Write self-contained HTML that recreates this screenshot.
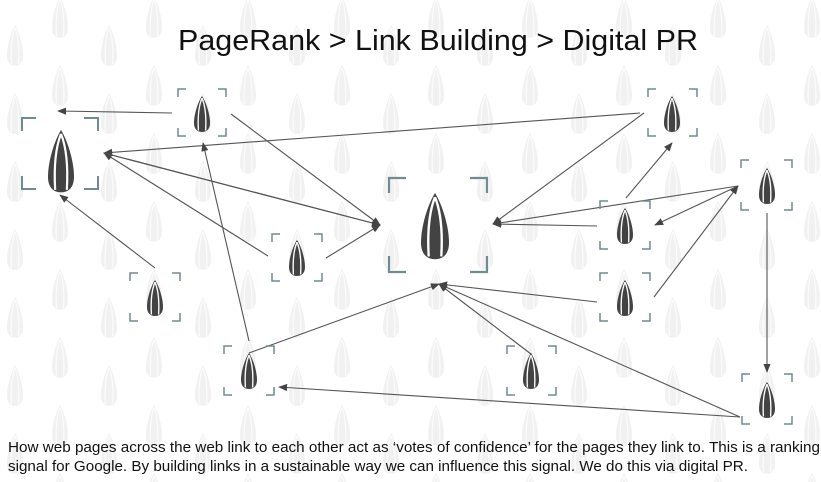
<!DOCTYPE html>
<html><head><meta charset="utf-8"><style>
html,body{margin:0;padding:0;background:#fff;}
svg{display:block;}
</style></head><body>
<svg width="821" height="482" viewBox="0 0 821 482" xmlns="http://www.w3.org/2000/svg">
<defs>
<path id="seed" d="M10 0 C15 8 20 24 20 36 C20 44 16 48 10 48 C4 48 0 44 0 36 C0 24 5 8 10 0Z"/>
<g id="dseed">
<use href="#seed" fill="#434343"/>
<path d="M10 3 C6 13 4.5 28 5.5 46 M10 3 C14 13 15.5 28 14.5 46" stroke="#fff" stroke-width="1.7" fill="none"/>
</g>
<g id="bseed">
<use href="#seed" fill="#f1f1f1"/>
<path d="M10 3 C6 13 4.5 28 5.5 46 M10 3 C14 13 15.5 28 14.5 46" stroke="#fcfcfc" stroke-width="1.5" fill="none"/>
</g>
<pattern id="bg" patternUnits="userSpaceOnUse" width="94" height="68" x="0" y="0">
<use href="#bseed" transform="translate(52,-3) scale(0.8,0.85)"/>
<use href="#bseed" transform="translate(52,65) scale(0.8,0.85)"/>
<use href="#bseed" transform="translate(7,25) scale(0.8,0.85)"/>
<use href="#bseed" transform="translate(101,25) scale(0.8,0.85)"/>
</pattern>
<marker id="ah" viewBox="0 0 10 10" refX="9" refY="5" markerWidth="9" markerHeight="9" markerUnits="userSpaceOnUse" orient="auto">
<path d="M0 1 L10 5 L0 9 Z" fill="#444"/>
</marker>
</defs>
<rect width="821" height="482" fill="#fff"/>
<rect width="821" height="482" fill="url(#bg)"/>

<text x="178" y="50" font-family="Liberation Sans, sans-serif" font-size="29" fill="#111" textLength="520" lengthAdjust="spacingAndGlyphs">PageRank &gt; Link Building &gt; Digital PR</text>

<g stroke="#555" stroke-width="1.1" fill="none" marker-end="url(#ah)">
<line x1="172" y1="113" x2="58" y2="111"/>
<line x1="640" y1="113" x2="104" y2="153"/>
<line x1="268" y1="256" x2="104" y2="153"/>
<line x1="380" y1="225" x2="104" y2="153"/>
<line x1="104" y1="153" x2="380" y2="225"/>
<line x1="155" y1="268" x2="60" y2="195"/>
<line x1="231" y1="114" x2="380" y2="225"/>
<line x1="326" y1="258" x2="380" y2="225"/>
<line x1="249" y1="341" x2="203" y2="143"/>
<line x1="644" y1="113" x2="493" y2="224"/>
<line x1="597" y1="226" x2="493" y2="224"/>
<line x1="738" y1="186" x2="493" y2="224"/>
<line x1="626" y1="198" x2="672" y2="143"/>
<line x1="738" y1="186" x2="655" y2="225"/>
<line x1="654" y1="297" x2="738" y2="186"/>
<line x1="249" y1="353" x2="439" y2="284"/>
<line x1="597" y1="302" x2="439" y2="284"/>
<line x1="531" y1="354" x2="439" y2="284"/>
<line x1="740" y1="417" x2="439" y2="284"/>
<line x1="740" y1="417" x2="279" y2="387"/>
<line x1="767" y1="213" x2="767" y2="372"/>
</g>

<g fill="none" stroke="#6f8c90">
<path stroke-width="2" d="M22 131V118H36 M84 118H98V131 M22 176V189H36 M84 189H98V176"/>
<path stroke-width="2.2" d="M389 193V178H406 M470 178H487V193 M389 256V272H406 M470 272H487V256"/>
<g stroke-width="1.5">
<path d="M178 97V89H186 M218 89H226V97 M178 128V136H186 M218 136H226V128"/>
<path d="M272 242V234H280 M314 234H322V242 M272 273V281H280 M314 281H322V273"/>
<path d="M130 281V273H138 M172 273H180V281 M130 313V321H138 M172 321H180V313"/>
<path d="M224 354V346H232 M266 346H274V354 M224 387V395H232 M266 395H274V387"/>
<path d="M507 354V346H515 M548 346H556V354 M507 387V395H515 M548 395H556V387"/>
<path d="M648 97V89H656 M689 89H697V97 M648 128V136H656 M689 136H697V128"/>
<path d="M741 168V160H749 M784 160H792V168 M741 202V210H749 M784 210H792V202"/>
<path d="M600 209V201H608 M642 201H650V209 M600 241V249H608 M642 249H650V241"/>
<path d="M600 281V273H608 M642 273H650V281 M600 313V321H608 M642 321H650V313"/>
<path d="M742 382V374H750 M784 374H792V382 M742 416V424H750 M784 424H792V416"/>
</g>
</g>

<use href="#dseed" transform="translate(48,130) scale(1.3,1.3)"/>
<use href="#dseed" transform="translate(421,193) scale(1.4,1.38)"/>
<use href="#dseed" transform="translate(194,96) scale(0.8,0.75)"/>
<use href="#dseed" transform="translate(289,240) scale(0.8,0.75)"/>
<use href="#dseed" transform="translate(147,280) scale(0.8,0.75)"/>
<use href="#dseed" transform="translate(241,353) scale(0.8,0.75)"/>
<use href="#dseed" transform="translate(523,353) scale(0.8,0.75)"/>
<use href="#dseed" transform="translate(664,96) scale(0.8,0.75)"/>
<use href="#dseed" transform="translate(759,168) scale(0.8,0.75)"/>
<use href="#dseed" transform="translate(617,208) scale(0.8,0.75)"/>
<use href="#dseed" transform="translate(617,280) scale(0.8,0.75)"/>
<use href="#dseed" transform="translate(759,382) scale(0.8,0.75)"/>

<text x="8" y="452" font-family="Liberation Sans, sans-serif" font-size="15" fill="#111" textLength="812" lengthAdjust="spacingAndGlyphs">How web pages across the web link to each other act as ‘votes of confidence’ for the pages they link to. This is a ranking</text>
<text x="8" y="471" font-family="Liberation Sans, sans-serif" font-size="15" fill="#111" textLength="740" lengthAdjust="spacingAndGlyphs">signal for Google. By building links in a sustainable way we can influence this signal. We do this via digital PR.</text>
</svg>
</body></html>
